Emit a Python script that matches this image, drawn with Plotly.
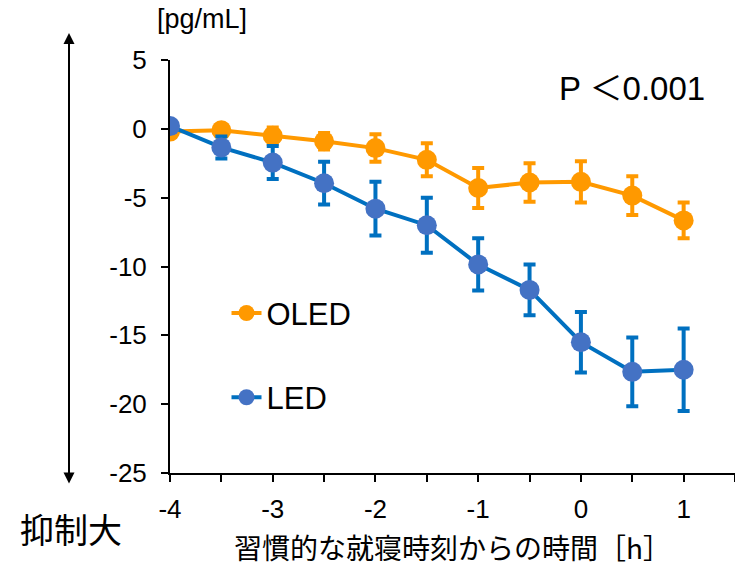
import plotly.graph_objects as go

hours = [-4, -3.5, -3, -2.5, -2, -1.5, -1, -0.5, 0, 0.5, 1]
oled = [-0.2, -0.1, -0.5, -0.9, -1.4, -2.25, -4.3, -3.9, -3.85, -4.85, -6.65]
oled_err = [0.3, 0.4, 0.6, 0.6, 1.0, 1.2, 1.45, 1.4, 1.5, 1.4, 1.3]
led = [0.2, -1.35, -2.45, -3.95, -5.8, -7.0, -9.85, -11.7, -15.5, -17.65, -17.5]
led_err = [0.3, 0.8, 1.2, 1.55, 1.95, 2.0, 1.9, 1.85, 2.2, 2.5, 3.0]

x_tickvals = [-4, -3.5, -3, -2.5, -2, -1.5, -1, -0.5, 0, 0.5, 1, 1.5]
x_ticktext = ["-4", "", "-3", "", "-2", "", "-1", "", "0", "", "1", ""]
y_tickvals = [5, 0, -5, -10, -15, -20, -25]
y_ticktext = ["5", "0", "-5", "-10", "-15", "-20", "-25"]

ORANGE = "#FF9900"
BLUE_LINE = "#0070C0"
BLUE_MARK = "#4472C4"
NUM_FONT = "Liberation Sans, Arial, sans-serif"
JP_FONT = "Noto Sans CJK JP, sans-serif"

fig = go.Figure()
fig.add_trace(go.Scatter(
    x=hours, y=oled, name="OLED", mode="lines+markers",
    line=dict(color=ORANGE, width=4),
    marker=dict(color=ORANGE, size=20),
    error_y=dict(type="data", array=oled_err, color=ORANGE, thickness=4, width=6),
    legendgroup="a",
))
fig.add_trace(go.Scatter(
    x=hours, y=led, name="LED", mode="lines+markers",
    line=dict(color=BLUE_LINE, width=4),
    marker=dict(color=BLUE_MARK, size=20),
    error_y=dict(type="data", array=led_err, color=BLUE_LINE, thickness=4, width=6),
    legendgroup="b",
))

fig.update_layout(
    width=735, height=567,
    margin=dict(l=170, r=0, t=60, b=94),
    plot_bgcolor="white", paper_bgcolor="white",
    showlegend=True,
    legend=dict(x=0.10, y=0.452, xanchor="left", yanchor="top",
                font=dict(family=NUM_FONT, size=31, color="black"),
                tracegroupgap=41, bgcolor="rgba(0,0,0,0)"),
    xaxis=dict(range=[-4, 1.5], tickvals=x_tickvals, ticktext=x_ticktext,
               ticks="outside", ticklen=7, tickwidth=2, tickcolor="black",
               showline=True, linecolor="black", linewidth=2,
               showgrid=False, zeroline=False, ticklabelstandoff=5,
               tickfont=dict(family=NUM_FONT, size=26, color="black")),
    yaxis=dict(range=[-25, 5], tickvals=y_tickvals, ticktext=y_ticktext,
               ticks="outside", ticklen=7, tickwidth=2, tickcolor="black",
               showline=True, linecolor="black", linewidth=2,
               showgrid=False, zeroline=False, ticklabelstandoff=9,
               tickfont=dict(family=NUM_FONT, size=26, color="black")),
)

fig.add_annotation(xref="paper", yref="paper", x=(69 - 170) / 565, y=(473 - 33) / 413,
                   ax=0, ay=452, axref="pixel", ayref="pixel", text="",
                   showarrow=True, arrowside="end+start", arrowhead=2,
                   arrowsize=1.1, arrowwidth=2, arrowcolor="black")
fig.add_annotation(xref="paper", yref="paper", x=(202 - 170) / 565, y=(473 - 19) / 413,
                   xanchor="center", yanchor="middle",
                   text="[pg/mL]", showarrow=False,
                   font=dict(family=NUM_FONT, size=27, color="black"))
fig.add_annotation(xref="paper", yref="paper", x=(632 - 170) / 565, y=(473 - 88) / 413,
                   xanchor="center", yanchor="middle",
                   text="P ＜0.001", showarrow=False,
                   font=dict(family="Liberation Sans, Noto Sans CJK JP, sans-serif",
                             size=33, color="black"))
fig.add_annotation(xref="paper", yref="paper", x=(71 - 170) / 565, y=(473 - 528) / 413,
                   xanchor="center", yanchor="middle",
                   text="抑制大", showarrow=False,
                   font=dict(family=JP_FONT, size=34, color="black"))
fig.add_annotation(xref="paper", yref="paper", x=(452 - 170) / 565, y=(473 - 547) / 413,
                   xanchor="center", yanchor="middle",
                   text="習慣的な就寝時刻からの時間［h］", showarrow=False,
                   font=dict(family=JP_FONT, size=28, color="black"))

fig.write_html("out.html", config={"displayModeBar": False},
               post_script="document.body.style.margin='0';")
